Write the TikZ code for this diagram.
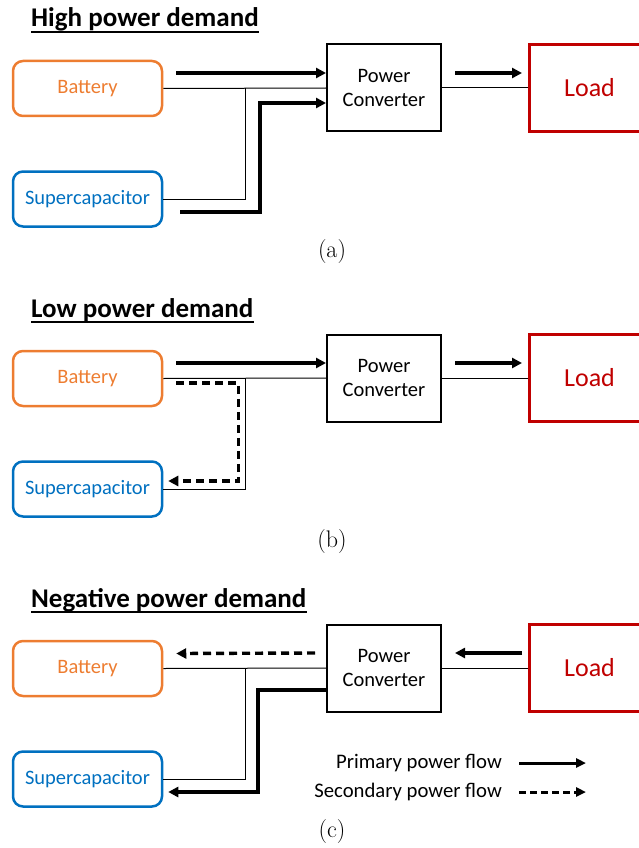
\documentclass[tikz,border=0pt]{standalone}
\usepackage{fontspec}
\newfontfamily\calibri{Carlito}
\usetikzlibrary{positioning, arrows.meta}

\definecolor{batcol}{HTML}{ED7D31}
\definecolor{sccol}{HTML}{0070C0}
\definecolor{loadcol}{HTML}{C00000}

\tikzset{
  store/.style={draw, line width=2.5pt, rounded corners=10pt, minimum width=149pt,
    minimum height=55pt, font=\calibri\fontsize{20.5}{24}\selectfont},
  battery/.style={store, draw=batcol, text=batcol},
  supercap/.style={store, draw=sccol, text=sccol},
  conv/.style={draw, line width=2pt, minimum width=114pt, minimum height=87pt,
    align=center, font=\calibri\fontsize{20.5}{24}\selectfont},
  load/.style={draw=loadcol, text=loadcol, line width=3pt, minimum width=120pt,
    minimum height=87pt, font=\calibri\fontsize{26}{30}\selectfont},
  heading/.style={anchor=base west, inner sep=0pt, font=\calibri\bfseries\fontsize{27}{32}\selectfont},
  uline/.style={line width=2pt},
  capt/.style={font=\fontsize{24}{28}\selectfont},
  legtext/.style={anchor=east, inner sep=0pt, font=\calibri\fontsize{20.7}{24}\selectfont},
  wire/.style={line width=1pt},
  pflow/.style={line width=3.4pt, -{Triangle[length=10pt,width=10pt]}},
  sflow/.style={line width=3.4pt, dash pattern=on 8pt off 5pt, -{Triangle[length=10pt,width=10pt]}},
  legp/.style={line width=3pt, -{Triangle[length=10pt,width=9pt]}},
  legs/.style={legp, dash pattern=on 7pt off 4pt}
}

\begin{document}
\begin{tikzpicture}[x=1pt, y=-1pt]
   \useasboundingbox (0,0) rectangle (638,848);

   % (a) High power demand
   \node[heading] (tit-a) at (31,27) {High power demand};
   \draw[uline] ([yshift=-5pt]tit-a.base west) -- ([yshift=-5pt]tit-a.base east);
   \node[battery] (bat-a) at (87.5,88.5) {Battery};
   \node[supercap] (sc-a) [below=53pt of bat-a] {Supercapacitor};
   \node[conv] (conv-a) at (384,88) {Power\\Converter};
   \node[load] (load-a) [right=86pt of conv-a] {Load};
   \coordinate (ja) at (245,88);
   \coordinate (pa1) at (176,73);
   \coordinate (pa2) at (180,212);

   \draw[wire] (bat-a.east) -- (conv-a.west);
   \draw[wire] (sc-a.east) -| (ja);
   \draw[wire] (conv-a.east) -- (load-a.west);
   \draw[pflow] (pa1) -- (pa1 -| conv-a.west);
   \draw[pflow] (pa2) -- ++(80,0) |- ([yshift=-15pt]conv-a.west);
   \draw[pflow] ([xshift=13pt,yshift=15pt]conv-a.east) -- ([xshift=-6pt,yshift=15pt]load-a.west);
   \node[capt] (cap-a) at (332,252) {(a)};

   % (b) Low power demand
   \node[heading] (tit-b) at (31,317) {Low power demand};
   \draw[uline] ([yshift=-5pt]tit-b.base west) -- ([yshift=-5pt]tit-b.base east);
   \node[battery] (bat-b) at (87.5,378.5) {Battery};
   \node[supercap] (sc-b) [below=53pt of bat-b] {Supercapacitor};
   \node[conv] (conv-b) at (384,378) {Power\\Converter};
   \node[load] (load-b) [right=86pt of conv-b] {Load};
   \coordinate (jb) at (245,378);
   \coordinate (pb1) at (176,363);
   \coordinate (sb1) at (176,383);

   \draw[wire] (bat-b.east) -- (conv-b.west);
   \draw[wire] (sc-b.east) -| (jb);
   \draw[wire] (conv-b.east) -- (load-b.west);
   \draw[pflow] (pb1) -- (pb1 -| conv-b.west);
   \draw[sflow] (sb1) -| ([xshift=75pt,yshift=8pt]sc-b.east) -- ([xshift=5pt,yshift=8pt]sc-b.east);
   \draw[pflow] ([xshift=13pt,yshift=15pt]conv-b.east) -- ([xshift=-6pt,yshift=15pt]load-b.west);
   \node[capt] (cap-b) at (332,542) {(b)};

   % (c) Negative power demand
   \node[heading] (tit-c) at (31,607) {Negative power demand};
   \draw[uline] ([yshift=-5pt]tit-c.base west) -- ([yshift=-5pt]tit-c.base east);
   \node[battery] (bat-c) at (87.5,668.5) {Battery};
   \node[supercap] (sc-c) [below=53pt of bat-c] {Supercapacitor};
   \node[conv] (conv-c) at (384,668) {Power\\Converter};
   \node[load] (load-c) [right=86pt of conv-c] {Load};
   \coordinate (jc) at (245,668);

   \draw[wire] (bat-c.east) -- (conv-c.west);
   \draw[wire] (sc-c.east) -| (jc);
   \draw[wire] (conv-c.east) -- (load-c.west);
   \draw[sflow] ([xshift=-11pt,yshift=15pt]conv-c.west) -- ([xshift=13pt,yshift=15pt]bat-c.east);
   \draw[pflow] ([yshift=-22pt]conv-c.west) -- ++(-68,0) |- ([xshift=5pt,yshift=-13pt]sc-c.east);
   \draw[pflow] ([xshift=-6pt,yshift=15pt]load-c.west) -- ([xshift=13pt,yshift=15pt]conv-c.east);

   % Legend
   \node[legtext] (leg-p) at (502,763) {Primary power flow};
   \node[legtext] (leg-s) at (502,792) {Secondary power flow};
   \draw[legp] ([xshift=17pt]leg-p.east) -- ++(67,0);
   \draw[legs] ([xshift=17pt]leg-s.east) -- ++(67,0);
   \node[capt] (cap-c) at (332,832) {(c)};
\end{tikzpicture}
\end{document}
